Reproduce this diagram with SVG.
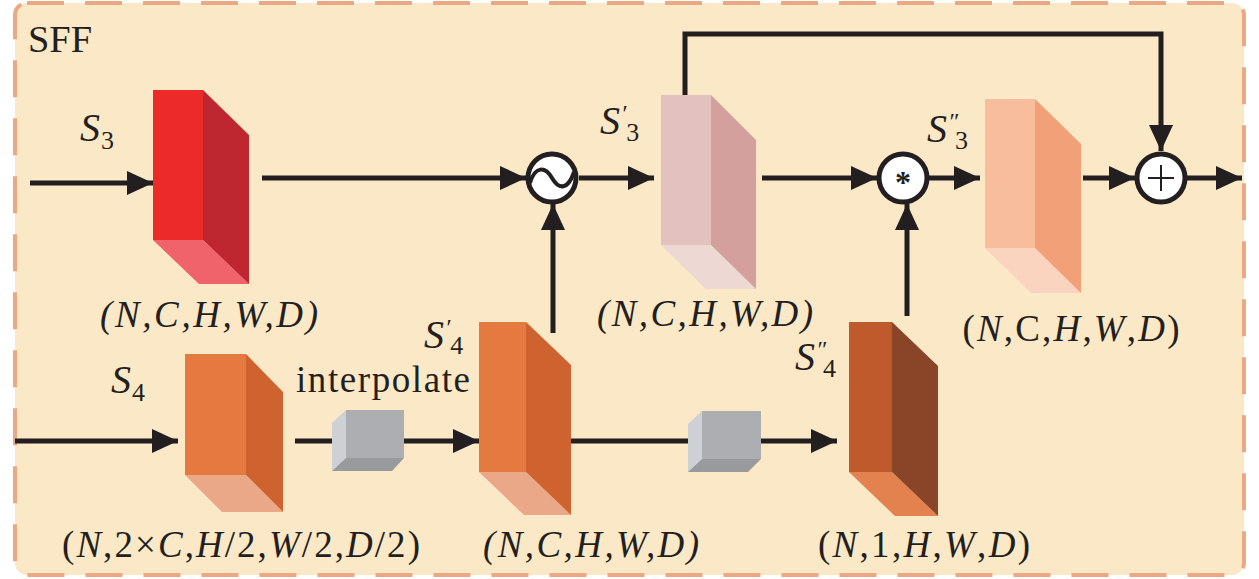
<svg xmlns="http://www.w3.org/2000/svg" width="1259" height="579" viewBox="0 0 1259 579">
<defs>
<style>
text{font-family:'Liberation Serif','DejaVu Serif',serif;fill:#231F20}
.i{font-style:italic}
.dim{font-size:37px}
.lbl{font-size:40px;font-style:italic}
.sub{font-size:26px;font-style:normal}
.pr{font-size:24px;font-style:italic}
.ln{stroke:#231F20;stroke-width:5;fill:none}
.arr{marker-end:url(#ah)}
.op{fill:#FFFFFF;stroke:#231F20;stroke-width:5}
</style>
<marker id="ah" markerUnits="userSpaceOnUse" markerWidth="27" markerHeight="24" refX="26" refY="12" orient="auto">
<path d="M0,0 L26,12 L0,24 z" fill="#231F20"/>
</marker>
</defs>

<g id="frame">
<rect x="15" y="3" width="1229" height="572" rx="12" fill="#FAE8C6" stroke="#EBA884" stroke-width="4" stroke-dasharray="37 21"/>
<text x="28" y="52" font-size="38" textLength="64" lengthAdjust="spacingAndGlyphs">SFF</text>
</g>

<g id="connectors">
<line class="ln arr" x1="30" y1="183" x2="153" y2="183"/>
<line class="ln arr" x1="262" y1="178" x2="526" y2="178"/>
<line class="ln arr" x1="579" y1="178" x2="654" y2="178"/>
<polyline class="ln arr" points="685,95 685,34 1161,34 1161,151"/>
<line class="ln arr" x1="762" y1="178" x2="877" y2="178"/>
<line class="ln arr" x1="929" y1="178" x2="980" y2="178"/>
<line class="ln arr" x1="1083" y1="178" x2="1135" y2="178"/>
<line class="ln arr" x1="1187" y1="178" x2="1242" y2="178"/>
<line class="ln arr" x1="907" y1="316" x2="907" y2="204"/>
<line class="ln arr" x1="553" y1="333" x2="553" y2="204"/>
<line class="ln arr" x1="15" y1="441" x2="178" y2="441"/>
<line class="ln" x1="295" y1="441" x2="333" y2="441"/>
<line class="ln arr" x1="404" y1="441" x2="479" y2="441"/>
<line class="ln" x1="571" y1="441" x2="689" y2="441"/>
<line class="ln arr" x1="760" y1="441" x2="837" y2="441"/>
</g>

<g id="S3">
<polygon points="153,240 203,240 249,284 199,284" fill="#F0636A"/>
<polygon points="203,90 249,135 249,284 203,240" fill="#BE2630"/>
<rect x="153" y="90" width="50" height="150" fill="#EC2A2A"/>
<text class="lbl" x="80" y="141">S<tspan class="sub" dx="1" dy="8">3</tspan></text>
<text class="dim i" x="209" y="327" text-anchor="middle" textLength="218" lengthAdjust="spacing">(N,C,H,W,D)</text>
</g>

<g id="fuse1">
<circle class="op" cx="552" cy="178" r="24"/>
<path d="M530,183 C535,166 545,166 552,178 S568,190 574,172" fill="none" stroke="#231F20" stroke-width="4"/>
</g>

<g id="S3p">
<polygon points="661,245 711,245 756,289 706,289" fill="#EDD8D3"/>
<polygon points="711,95 756,140 756,289 711,245" fill="#D4A09E"/>
<rect x="661" y="95" width="50" height="150" fill="#E3C1BF"/>
<text class="lbl" x="600" y="134">S<tspan class="pr" dx="1" dy="-13">′</tspan><tspan class="sub" dx="0" dy="20">3</tspan></text>
<text class="dim i" x="705" y="326" text-anchor="middle" textLength="216" lengthAdjust="spacing">(N,C,H,W,D)</text>
</g>

<g id="mul">
<circle class="op" cx="903" cy="178" r="24"/>
<text x="903" y="193" text-anchor="middle" font-size="32" font-weight="bold">*</text>
</g>

<g id="S3pp">
<polygon points="985,248 1035,248 1081,293 1031,293" fill="#FAD4BE"/>
<polygon points="1035,99 1081,144 1081,293 1035,248" fill="#F2A077"/>
<rect x="985" y="99" width="50" height="149" fill="#F8BD9C"/>
<text class="lbl" x="927" y="142">S<tspan class="pr" dx="1" dy="-13">″</tspan><tspan class="sub" dx="-3" dy="20">3</tspan></text>
<text class="dim" x="1071" y="341" text-anchor="middle" textLength="217" lengthAdjust="spacing">(<tspan class="i">N</tspan>,C,<tspan class="i">H</tspan>,<tspan class="i">W</tspan>,<tspan class="i">D</tspan>)</text>
</g>

<g id="add">
<circle class="op" cx="1161" cy="178" r="24"/>
<path d="M1161,165 V191 M1148,178 H1174" stroke="#231F20" stroke-width="2" fill="none"/>
</g>

<g id="S4">
<polygon points="185,475 246,475 283,512 222,512" fill="#EBA888"/>
<polygon points="246,354 283,392 283,512 246,475" fill="#CF6330"/>
<rect x="185" y="354" width="61" height="121" fill="#E57A40"/>
<text class="lbl" x="111" y="393">S<tspan class="sub" dx="1" dy="8">4</tspan></text>
<text class="dim" x="241" y="557" text-anchor="middle" textLength="358" lengthAdjust="spacing">(<tspan class="i">N</tspan>,2×<tspan class="i">C</tspan>,<tspan class="i">H</tspan>/2,<tspan class="i">W</tspan>/2,<tspan class="i">D</tspan>/2)</text>
</g>

<g id="interp">
<polygon points="332,423 346,410 346,458 332,471" fill="#CDD0D4"/>
<polygon points="332,471 392,471 404,458 346,458" fill="#999A9D"/>
<rect x="346" y="410" width="58" height="48" fill="#ADAEB1"/>
<text x="296" y="392" font-size="37" textLength="174" lengthAdjust="spacing">interpolate</text>
</g>

<g id="S4p">
<polygon points="479,472 526,472 571,515 524,515" fill="#EBA888"/>
<polygon points="526,322 571,365 571,515 526,472" fill="#CF6330"/>
<rect x="479" y="322" width="47" height="150" fill="#E57A40"/>
<text class="lbl" x="424" y="348">S<tspan class="pr" dx="1" dy="-13">′</tspan><tspan class="sub" dx="0" dy="19">4</tspan></text>
<text class="dim i" x="591" y="557" text-anchor="middle" textLength="216" lengthAdjust="spacing">(N,C,H,W,D)</text>
</g>

<g id="conv">
<polygon points="688,424 702,411 702,459 688,472" fill="#CDD0D4"/>
<polygon points="688,472 748,472 761,459 702,459" fill="#999A9D"/>
<rect x="702" y="411" width="59" height="48" fill="#ADAEB1"/>
</g>

<g id="S4pp">
<polygon points="849,472 892,472 938,516 895,516" fill="#E3814F"/>
<polygon points="892,322 938,366 938,516 892,472" fill="#8A4428"/>
<rect x="849" y="322" width="43" height="150" fill="#BF5A2C"/>
<text class="lbl" x="795" y="370">S<tspan class="pr" dx="1" dy="-13">″</tspan><tspan class="sub" dx="-3" dy="20">4</tspan></text>
<text class="dim" x="924" y="557" text-anchor="middle" textLength="212" lengthAdjust="spacing">(<tspan class="i">N</tspan>,1,<tspan class="i">H</tspan>,<tspan class="i">W</tspan>,<tspan class="i">D</tspan>)</text>
</g>
</svg>
